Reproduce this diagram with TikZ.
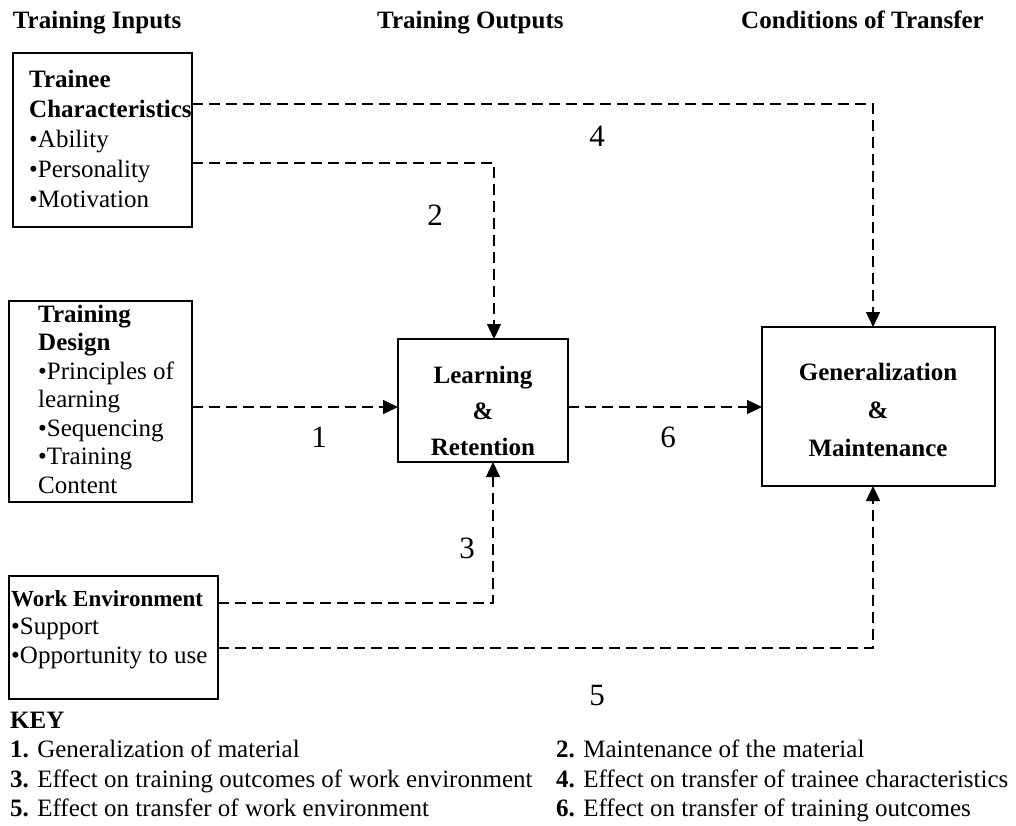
\documentclass[tikz,border=0pt]{standalone}
\usepackage{fontspec}
\setmainfont{Liberation Serif}
\usetikzlibrary{arrows.meta}
\begin{document}
\begin{tikzpicture}[x=1pt,y=-1pt,
  box/.style={draw, line width=1.8pt, inner sep=0pt, outer sep=0pt, anchor=north west},
  flow/.style={line width=1.3pt, dash pattern=on 11pt off 6pt,
    -{Triangle[length=15pt,width=14pt]}},
  head/.style={font=\fontsize{25}{30}\selectfont\bfseries, inner sep=0pt},
  body/.style={inner sep=0pt, anchor=base west},
  num/.style={font=\fontsize{31}{31}\selectfont, inner sep=0pt}]
\useasboundingbox (0,0) rectangle (1016,825);

% column headings
\node[head, anchor=base west] (hin) at (12.7,28) {Training Inputs};
\node[head, anchor=base west] (hout) at (377,28) {Training Outputs};
\node[head, anchor=base east] (hcond) at (984,28) {Conditions of Transfer};

% boxes
\node[box, minimum width=179.3pt, minimum height=174pt] (tc) at (12.7,53) {};
\node[box, minimum width=183pt, minimum height=201pt] (td) at (9,301) {};
\node[box, minimum width=209pt, minimum height=123pt] (we) at (9,576) {};
\node[box, minimum width=170pt, minimum height=123pt] (lr) at (398,339) {};
\node[box, minimum width=233pt, minimum height=159pt] (gm) at (762,327) {};

% box contents
\node[body] (tctext) at (29,87) {\fontsize{25}{30}\selectfont
  \begin{tabular}[t]{@{}l@{}}\textbf{Trainee}\\ \textbf{Characteristics}\\
  •Ability\\ •Personality\\ •Motivation\end{tabular}};
\node[body] (tdtext) at (38,322) {\fontsize{25}{28.5}\selectfont
  \begin{tabular}[t]{@{}l@{}}\textbf{Training}\\ \textbf{Design}\\
  •Principles of\\ learning\\ •Sequencing\\ •Training\\ Content\end{tabular}};
\node[body] (wetitle) at (11,606) {\fontsize{23}{28.5}\selectfont\bfseries Work Environment};
\node[body] (wetext) at (11,634) {\fontsize{25}{29}\selectfont
  \begin{tabular}[t]{@{}l@{}}•Support\\ •Opportunity to use\end{tabular}};
\node[inner sep=0pt, anchor=base] (lrtext) at (483,383) {\fontsize{25}{36}\selectfont\bfseries
  \begin{tabular}[t]{@{}c@{}}Learning\\ \&\\ Retention\end{tabular}};
\node[inner sep=0pt, anchor=base] (gmtext) at (878,380) {\fontsize{25}{38}\selectfont\bfseries
  \begin{tabular}[t]{@{}c@{}}Generalization\\ \&\\ Maintenance\end{tabular}};

% bends of the connectors
\coordinate (c1) at (300,407);
\coordinate (c2) at (494,163);
\coordinate (c3) at (493,603);
\coordinate (c4) at (873,104);
\coordinate (c5) at (873,648);

% connectors
\draw[flow] (td.east |- c1) -- (lr.west |- c1);
\draw[flow] (tc.east |- c2) -- (c2) -- (lr.north -| c2);
\draw[flow] (we.east |- c3) -- (c3) -- (lr.south -| c3);
\draw[flow] (tc.east |- c4) -- (c4) -- (gm.north -| c4);
\draw[flow] (we.east |- c5) -- (c5) -- (gm.south -| c5);
\draw[flow] (lr.east |- c1) -- (gm.west |- c1);

% connector numbers
\node[num] (n1) at (319,437) {1};
\node[num] (n2) at (435,215) {2};
\node[num] (n3) at (467,548) {3};
\node[num] (n4) at (597,136) {4};
\node[num] (n5) at (597,695) {5};
\node[num] (n6) at (668,437) {6};

% key
\node[body] (keyl) at (10,728) {\fontsize{25}{29.6}\selectfont
  \begin{tabular}[t]{@{}l@{}}\textbf{KEY}\\
  \textbf{1.} Generalization of material\\
  \textbf{3.} Effect on training outcomes of work environment\\
  \textbf{5.} Effect on transfer of work environment\end{tabular}};
\node[body] (keyr) at (556,757.6) {\fontsize{25}{29.6}\selectfont
  \begin{tabular}[t]{@{}l@{}}\textbf{2.} Maintenance of the material\\
  \textbf{4.} Effect on transfer of trainee characteristics\\
  \textbf{6.} Effect on transfer of training outcomes\end{tabular}};
\end{tikzpicture}
\end{document}
